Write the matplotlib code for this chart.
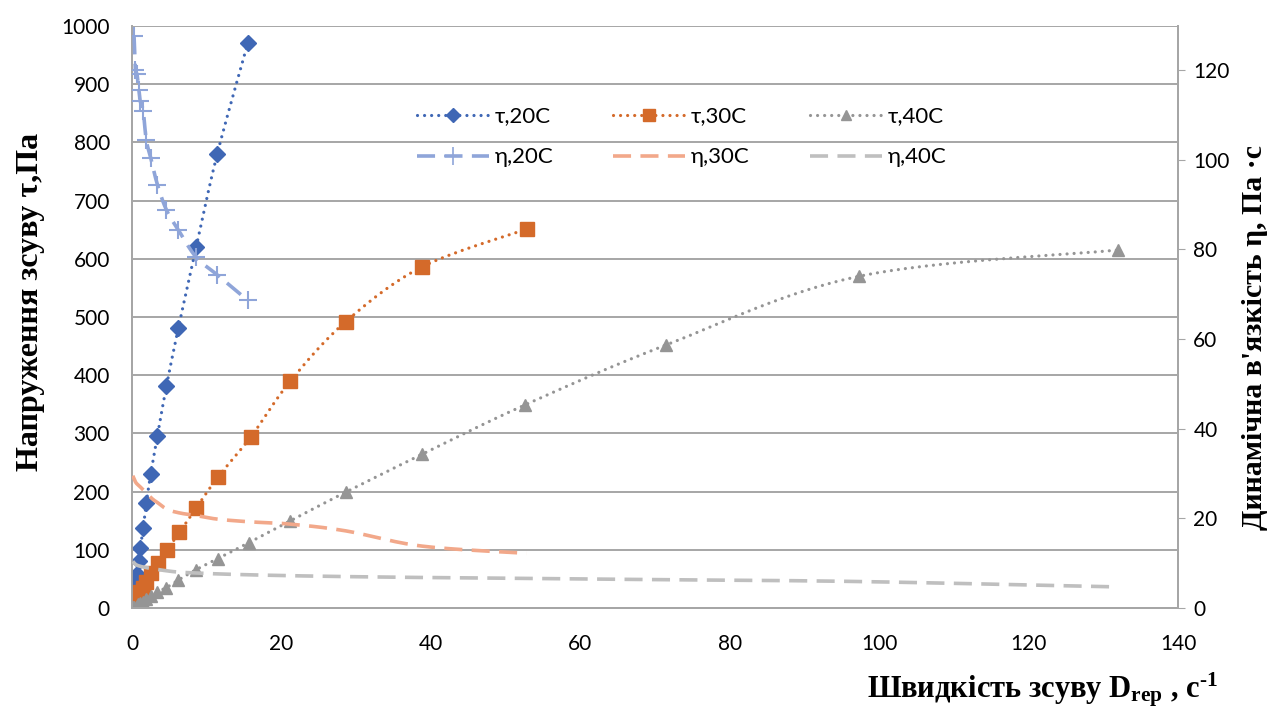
import numpy as np
import matplotlib.pyplot as plt
from matplotlib.lines import Line2D

plt.rcParams["font.family"] = ["Lato", "DejaVu Sans"]
plt.rcParams["mathtext.fontset"] = "custom"
plt.rcParams["mathtext.rm"] = "Liberation Serif:bold"
plt.rcParams["mathtext.bf"] = "Liberation Serif:bold"
plt.rcParams["mathtext.it"] = "Liberation Serif:bold:italic"

# Швидкість зсуву, с^-1, та напруження зсуву, Па
d_20 = [0.1, 0.27, 0.45, 0.67, 0.9, 1.1, 1.5, 1.9, 2.5, 3.4, 4.6, 6.2, 8.6, 11.4, 15.5]
tau_20 = [12, 30, 45, 58, 80, 103, 137, 180, 230, 296, 381, 481, 621, 780, 971]

d_30 = [0.1, 0.3, 0.6, 0.8, 1.1, 1.5, 1.9, 2.6, 3.5, 4.7, 6.35, 8.6, 11.5, 15.9, 21.2, 28.6, 38.8, 52.8]
tau_30 = [3, 8, 15, 20, 28, 35, 45, 60, 78, 100, 130, 172, 225, 294, 390, 492, 586, 651]

d_40 = [0.1, 0.3, 0.6, 0.8, 1.1, 1.5, 1.9, 2.6, 3.4, 4.6, 6.2, 8.6, 11.5, 15.6, 21.2, 28.6, 38.8, 52.6, 71.5, 97.3, 131.9]
tau_40 = [1, 2, 4, 6, 8, 11, 15, 21, 28, 35, 48, 66, 85, 112, 150, 199, 264, 349, 452, 570, 615]

# Динамічна в'язкість, Па·с
d_eta20 = [0.27, 0.45, 0.67, 0.9, 1.1, 1.5, 1.9, 2.5, 3.4, 4.6, 6.2, 8.6, 11.4, 15.5]
eta_20 = [127.5, 120, 119, 115.5, 113, 110.8, 104.4, 100.4, 94.4, 88.8, 84.3, 78.2, 74.3, 68.6]

d_eta30 = [0.1, 0.5, 1.1, 2.6, 3.5, 4.7, 6.35, 8.6, 11.5, 15.9, 21.2, 28.6, 38.8, 52.8]
eta_30 = [29.5, 28.0, 27.0, 24.5, 23.4, 22.0, 21.2, 20.6, 19.8, 19.2, 18.7, 17.2, 13.8, 12.2]

d_eta40 = [0.1, 0.3, 0.6, 1.1, 1.9, 3.4, 4.6, 6.2, 8.6, 11.5, 15.6, 21.2, 28.6, 38.8, 52.6, 71.5, 97.3, 131.9]
eta_40 = [10.4, 10.0, 9.6, 9.3, 9.0, 8.6, 8.3, 8.0, 7.8, 7.6, 7.4, 7.2, 7.0, 6.8, 6.6, 6.3, 5.9, 4.7]


def smooth(x, y, n=16):
    # згладжена лінія (Catmull-Rom) через точки, як у Excel
    x = np.asarray(x, float)
    y = np.asarray(y, float)
    px = np.concatenate([[x[0]], x, [x[-1]]])
    py = np.concatenate([[y[0]], y, [y[-1]]])
    xs, ys = [x[0]], [y[0]]
    t = np.linspace(0, 1, n + 1)[1:]
    for i in range(1, len(px) - 2):
        for p, out in ((px, xs), (py, ys)):
            p0, p1, p2, p3 = p[i - 1], p[i], p[i + 1], p[i + 2]
            out.extend(0.5 * ((2 * p1) + (-p0 + p2) * t
                              + (2 * p0 - 5 * p1 + 4 * p2 - p3) * t ** 2
                              + (-p0 + 3 * p1 - 3 * p2 + p3) * t ** 3))
    return np.array(xs), np.array(ys)


c_blue = "#3F67B5"
c_orange = "#D46A2A"
c_gray = "#959595"
c_lblue = "#8FA5D9"
c_salmon = "#F2A88A"
c_lgray = "#BFBFBF"

dot = (0, (0.01, 2.2))
dash = (0, (5, 2.6))

fig = plt.figure(figsize=(12.77, 7.11), dpi=100)
ax = fig.add_axes([0.1034, 0.1449, 0.8191, 0.8185])
ax2 = ax.twinx()

series_tau = [
    (d_20, tau_20, c_blue, "D", 8, "τ,20C"),
    (d_30, tau_30, c_orange, "s", 10, "τ,30C"),
    (d_40, tau_40, c_gray, "^", 9, "τ,40C"),
]
series_eta = [
    (d_eta20, eta_20, c_lblue, "+", 13, "η,20C"),
    (d_eta30, eta_30, c_salmon, None, 0, "η,30C"),
    (d_eta40, eta_40, c_lgray, None, 0, "η,40C"),
]

handles = []
for (x, y, c, m, ms, lab), (xe, ye, ce, me, mse, labe) in zip(series_tau, series_eta):
    sx, sy = smooth(x, y)
    ax.plot(sx, sy, color=c, lw=2.3, linestyle=dot, dash_capstyle="round", zorder=3)
    ax.plot(x, y, linestyle="none", marker=m, ms=ms, color=c, zorder=4)
    sx, sy = smooth(xe, ye)
    ax2.plot(sx, sy, color=ce, lw=2.6, linestyle=dash, zorder=3)
    if me:
        ax2.plot(xe, ye, linestyle="none", marker=me, ms=mse, mew=1.5, color=ce, zorder=4)
    handles.append(Line2D([], [], color=c, lw=2.3, linestyle=dot, dash_capstyle="round",
                          marker=m, ms=ms * 0.85, label=lab))
    handles.append(Line2D([], [], color=ce, lw=2.6, linestyle=dash,
                          marker=me if me else "None", ms=mse, mew=1.2, label=labe))

ax.set_xlim(0, 140)
ax.set_ylim(0, 1000)
ax.set_xticks(range(0, 141, 20))
ax.set_yticks(range(0, 1001, 100))
ax2.set_ylim(0, 129.8)
ax2.set_yticks(range(0, 121, 20))

ax.grid(axis="y", color="#A6A6A6", lw=1.4)
ax.set_axisbelow(True)
for a in (ax, ax2):
    for s in a.spines.values():
        s.set_color("#A6A6A6")
        s.set_linewidth(1.3)
    a.spines["top"].set_visible(False)
ax.tick_params(axis="x", length=0, labelsize=15, pad=19)
ax.tick_params(axis="y", length=0, labelsize=15, pad=16)
ax2.tick_params(axis="y", length=5, color="#A6A6A6", labelsize=15, pad=6)

leg = ax2.legend(handles=handles, ncol=3, frameon=False, fontsize=16,
                 loc="upper left", bbox_to_anchor=(0.272, 0.862),
                 borderpad=0, borderaxespad=0,
                 handlelength=3.25, columnspacing=2.7, labelspacing=0.95,
                 handletextpad=0.25)

fig.text(0.024, 0.575, "Напруження зсуву τ,Па", rotation=90, ha="center", va="center",
         family="Liberation Serif", weight="bold", fontsize=23)
fig.text(0.982, 0.525, "Динамічна в'язкість η, Па ·с", rotation=90, ha="center", va="center",
         family="Liberation Serif", weight="bold", fontsize=21.5)
fig.text(0.816, 0.03, "Швидкість зсуву D$_{\\mathrm{rep}}$ , с$^{\\mathrm{\u2010 1}}$",
         ha="center", va="center", family="Liberation Serif", weight="bold", fontsize=22)

fig.savefig("out.png", dpi=100)
